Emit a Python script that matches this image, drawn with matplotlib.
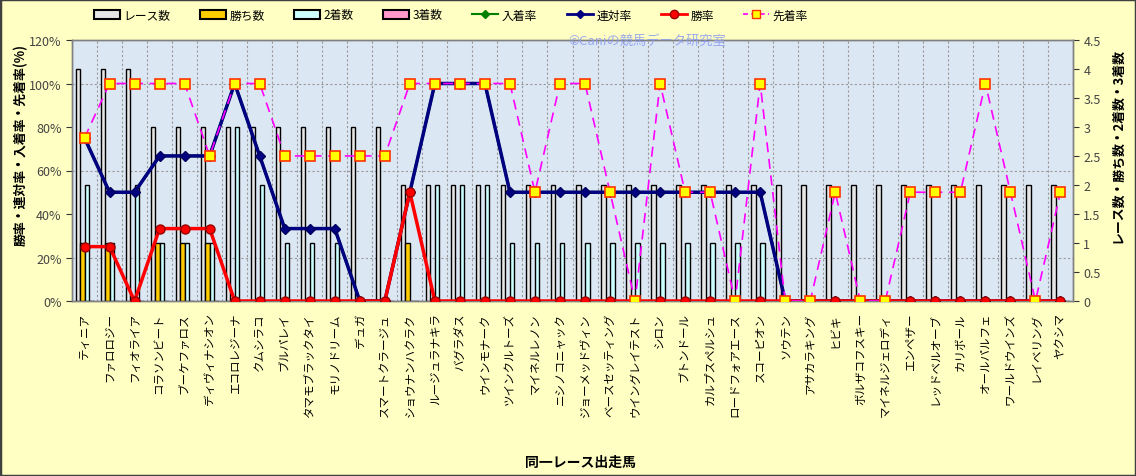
import matplotlib
matplotlib.use("Agg")
import matplotlib.pyplot as plt
from matplotlib.patches import Rectangle
from matplotlib.lines import Line2D
from matplotlib.ticker import FixedLocator, FuncFormatter
import numpy as np

plt.rcParams['font.family'] = ['Noto Sans CJK JP', 'DejaVu Sans']

horses = ["ティニア", "ファロロジー", "フィオライア", "コラソンビート", "ブーケファロス",
          "ディヴィナシオン", "エコロレジーナ", "クムシラコ", "ブルパレイ", "タマモブラックタイ",
          "モリノドリーム", "デュガ", "スマートクラージュ", "ショウナンハクラク", "ルージュラナキラ",
          "バグラダス", "ウインモナーク", "ツインクルトーズ", "マイネルレノン", "ニシノコニャック",
          "ジョーメッドヴィン", "ベースセッティング", "ウイングレイテスト", "シロン", "ブトンドール",
          "カルプスペルシュ", "ロードフォアエース", "スコーピオン", "ソウテン", "アサカラキング",
          "ヒビキ", "ボルザコフスキー", "マイネルジェロディ", "エンペザー", "レッドベルオーブ",
          "カリボール", "オールパルフェ", "ワールドウインズ", "レイベリング", "ヤクシマ"]

races  = [4, 4, 4, 3, 3, 3, 3, 3, 3, 3, 3, 3, 3, 2, 2, 2, 2, 2, 2, 2,
          2, 2, 2, 2, 2, 2, 2, 2, 2, 2, 2, 2, 2, 2, 2, 2, 2, 2, 2, 2]
wins   = [1, 1, 0, 1, 1, 1, 0, 0, 0, 0, 0, 0, 0, 1, 0, 0, 0, 0, 0, 0,
          0, 0, 0, 0, 0, 0, 0, 0, 0, 0, 0, 0, 0, 0, 0, 0, 0, 0, 0, 0]
second = [2, 1, 2, 1, 1, 1, 3, 2, 1, 1, 1, 0, 0, 0, 2, 2, 2, 1, 1, 1,
          1, 1, 1, 1, 1, 1, 1, 1, 0, 0, 0, 0, 0, 0, 0, 0, 0, 0, 0, 0]
third  = [0, 0, 0, 0, 0, 0, 0, 0, 0, 0, 0, 0, 0, 0, 0, 0, 0, 0, 0, 0,
          0, 0, 0, 0, 0, 0, 0, 0, 0, 0, 0, 0, 0, 0, 0, 0, 0, 0, 0, 0]

win_rate = [25, 25, 0, 33.3, 33.3, 33.3, 0, 0, 0, 0, 0, 0, 0, 50, 0, 0, 0, 0, 0, 0,
            0, 0, 0, 0, 0, 0, 0, 0, 0, 0, 0, 0, 0, 0, 0, 0, 0, 0, 0, 0]
rentai_rate = [75, 50, 50, 66.7, 66.7, 66.7, 100, 66.7, 33.3, 33.3, 33.3, 0, 0, 50, 100, 100, 100, 50, 50, 50,
               50, 50, 50, 50, 50, 50, 50, 50, 0, 0, 0, 0, 0, 0, 0, 0, 0, 0, 0, 0]
nyuchaku_rate = [75, 50, 50, 66.7, 66.7, 66.7, 100, 66.7, 33.3, 33.3, 33.3, 0, 0, 50, 100, 100, 100, 50, 50, 50,
                 50, 50, 50, 50, 50, 50, 50, 50, 0, 0, 0, 0, 0, 0, 0, 0, 0, 0, 0, 0]
senchaku_rate = [75, 100, 100, 100, 100, 66.7, 100, 100, 66.7, 66.7, 66.7, 66.7, 66.7, 100, 100, 100, 100, 100, 50, 100,
                 100, 50, 0, 100, 50, 50, 0, 100, 0, 0, 50, 0, 0, 50, 50, 50, 100, 50, 0, 50]

left_ticks = [0, 20, 40, 60, 80, 100, 120]
right_ticks = [0, 0.5, 1, 1.5, 2, 2.5, 3, 3.5, 4, 4.5]

W, H = 1136, 477
fig = plt.figure(figsize=(W / 100, H / 100), dpi=100)
fig.patch.set_facecolor('#FFFFC4')

L, R, T, B = 72, 1073, 41, 302
ax2 = fig.add_axes([L / W, 1 - B / H, (R - L) / W, (B - T) / H])
ax = ax2.twinx()
ax.yaxis.tick_left()
ax.yaxis.set_label_position('left')
ax2.yaxis.tick_right()
ax2.yaxis.set_label_position('right')

ax2.set_facecolor('#DCE7F4')
ax.set_zorder(ax2.get_zorder() + 1)
ax.patch.set_visible(False)

n = len(horses)
x = np.arange(n)
bw = 0.18
ax2.set_axisbelow(True)
ax2.bar(x - 1.5 * bw, races, bw, color='#E6E6E6', edgecolor='black', linewidth=1.0, zorder=3)
ax2.bar(x - 0.5 * bw, wins, bw, color='#FFCC00', edgecolor='black', linewidth=1.0, zorder=3)
ax2.bar(x + 0.5 * bw, second, bw, color='#CCFFFF', edgecolor='black', linewidth=1.0, zorder=3)
ax2.bar(x + 1.5 * bw, third, bw, color='#FF99CC', edgecolor='black', linewidth=1.0, zorder=3)
ax2.set_ylim(0, 4.5)
ax2.set_xlim(-0.5, n - 0.5)
ax2.yaxis.set_major_locator(FixedLocator(right_ticks))
ax2.yaxis.set_minor_locator(FixedLocator([t * 4.5 / 120 for t in left_ticks]))
ax2.yaxis.set_major_formatter(FuncFormatter(lambda v, p: f"{v:g}"))
ax2.tick_params(axis='y', which='major', labelsize=9, colors='#333333', labelcolor='#444444', length=4, direction='out')
ax2.tick_params(axis='y', which='minor', length=0)

ax2.set_xticks(x)
ax2.set_xticks(np.arange(-0.5, n, 1.0), minor=True)
ax2.set_xticklabels(horses, rotation=90, fontsize=8.3, va='top', ha='center')
ax2.tick_params(axis='x', which='both', length=0, pad=8)
ax2.grid(True, axis='x', which='minor', color='#999999', ls=(0, (2, 2)), lw=0.8)
ax2.grid(True, axis='y', which='minor', color='#999999', ls=(0, (2, 2)), lw=0.8)
ax2.grid(False, axis='y', which='major')

ax.plot(x, nyuchaku_rate, color='#008000', lw=2, marker='D', ms=4.5, mfc='#008000', mec='#006000', zorder=4)
ax.plot(x, rentai_rate, color='#000080', lw=2.5, marker='D', ms=5, mfc='#000080', mec='#000060', zorder=5)
ax.plot(x, win_rate, color='#FF0000', lw=2.5, marker='o', ms=6.5, mfc='#FF0000', mec='#990000', mew=1, zorder=6)
ax.plot(x, senchaku_rate, color='#FF00FF', lw=1.2, ls=(0, (6, 4)), marker='s', ms=7,
        mfc='#FFFF00', mec='#FF3300', mew=1.2, zorder=7)
ax.set_ylim(0, 120)
ax.set_xlim(-0.5, n - 0.5)
ax.yaxis.set_major_locator(FixedLocator(left_ticks))
ax.yaxis.set_major_formatter(FuncFormatter(lambda v, p: f"{int(v)}%"))
ax.tick_params(axis='y', labelsize=9, colors='#333333', labelcolor='#444444', length=4, direction='out')

for a in (ax, ax2):
    for s in a.spines.values():
        s.set_color('#808080')
        s.set_linewidth(1)

ax.set_ylabel("勝率・連対率・入着率・先着率(%)", fontsize=9.3, fontweight='bold')
ax.yaxis.set_label_coords(-0.044, 0.6)
ax2.set_ylabel("レース数・勝ち数・2着数・3着数", fontsize=9.3, fontweight='bold', rotation=90)
ax2.yaxis.set_label_coords(1.037, 0.6)

fig.text(580 / W, 1 - 463 / H, "同一レース出走馬", ha='center', va='center', fontsize=10, fontweight='bold')
fig.text(647 / W, 1 - 41 / H, "©Caniの競馬データ研究室", ha='center', va='center', fontsize=9.5,
         color='#8C9CF0', alpha=0.85, zorder=20)

handles = [
    Rectangle((0, 0), 1, 1, facecolor='#E6E6E6', edgecolor='black', lw=1.5),
    Rectangle((0, 0), 1, 1, facecolor='#FFCC00', edgecolor='black', lw=1.5),
    Rectangle((0, 0), 1, 1, facecolor='#CCFFFF', edgecolor='black', lw=1.5),
    Rectangle((0, 0), 1, 1, facecolor='#FF99CC', edgecolor='black', lw=1.5),
    Line2D([], [], color='#008000', lw=1.5, marker='D', ms=4),
    Line2D([], [], color='#000080', lw=2, marker='D', ms=4),
    Line2D([], [], color='#FF0000', lw=2, marker='o', ms=6, mec='#990000'),
    Line2D([], [], color='#FF00FF', lw=1.2, ls=(0, (3, 2)), marker='s', ms=6, mfc='#FFFF00', mec='#FF3300'),
]
labels = ["レース数", "勝ち数", "2着数", "3着数", "入着率", "連対率", "勝率", "先着率"]
fig.legend(handles, labels, loc='center', bbox_to_anchor=(451 / W, 1 - 16 / H), ncol=8, frameon=False,
           fontsize=8.5, handlelength=2.2, handleheight=0.7, columnspacing=2.5, handletextpad=0.3)

fig.patches.append(Rectangle((0, 0), 1, 1, transform=fig.transFigure, fill=False,
                             edgecolor='#404040', lw=2.5, zorder=10))

fig.savefig("out.png", dpi=100, facecolor=fig.get_facecolor())
